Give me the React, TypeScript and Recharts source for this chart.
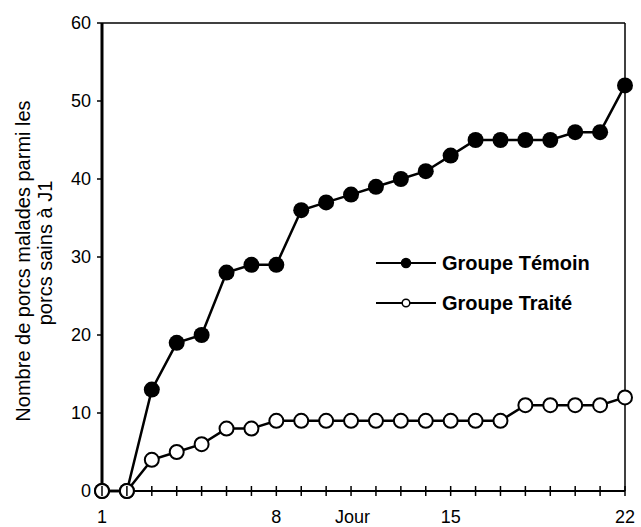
import { LineChart, Line, XAxis, YAxis, Legend, ReferenceLine } from "recharts"

const FONT = "'Liberation Sans', Arial, Helvetica, sans-serif"

const days = [1, 2, 3, 4, 5, 6, 7, 8, 9, 10, 11, 12, 13, 14, 15, 16, 17, 18, 19, 20, 21, 22]
const labelledDays = [1, 8, 15, 22]
const yTicks = [0, 10, 20, 30, 40, 50, 60]
const temoin = [0, 0, 13, 19, 20, 28, 29, 29, 36, 37, 38, 39, 40, 41, 43, 45, 45, 45, 45, 46, 46, 52]
const traite = [0, 0, 4, 5, 6, 8, 8, 9, 9, 9, 9, 9, 9, 9, 9, 9, 9, 11, 11, 11, 11, 12]
const seriesNames = ["Groupe Témoin", "Groupe Traité"]
const yTitleLines = ["Nombre de porcs malades parmi les", "porcs sains à J1"]
const xTitle = "Jour"

const data = days.map((day, i) => ({ day, temoin: temoin[i], traite: traite[i] }))

// tick marks cross the axis, labels only every 7 days
const DayTick = ({ x, y, payload }: any) => (
    <g>
        <line x1={x} x2={x} y1={y - 5} y2={y + 5} stroke="#000" strokeWidth={1.5} />
        {labelledDays.includes(payload.value) && (
            <text x={x} y={y + 32} textAnchor="middle" fontSize={18} fill="#000" fontFamily={FONT}>
                {payload.value}
            </text>
        )}
    </g>
)

const YTitle = ({ viewBox }: any) => {
    const cy = viewBox.y + viewBox.height / 2
    return (
        <g fontFamily={FONT} fontSize={20} fill="#000">
            <text transform={`translate(${viewBox.x + 30}, ${cy + 4}) rotate(-90)`} textAnchor="middle">
                {yTitleLines[0]}
            </text>
            <text transform={`translate(${viewBox.x + 52}, ${cy - 4}) rotate(-90)`} textAnchor="middle">
                {yTitleLines[1]}
            </text>
        </g>
    )
}

const XTitle = ({ viewBox }: any) => (
    <text
        x={viewBox.x + viewBox.width / 2 - 11}
        y={viewBox.y + 32}
        textAnchor="middle"
        fontSize={18}
        fill="#000"
        fontFamily={FONT}
    >
        {xTitle}
    </text>
)

const LegendBox = () => (
    <div style={{ fontFamily: FONT, fontWeight: "bold", fontSize: 20, color: "#000" }}>
        {seriesNames.map((name, i) => (
            <div key={name} style={{ display: "flex", alignItems: "center", height: 40 }}>
                <svg width={62} height={12} style={{ display: "block" }}>
                    <line x1={0} x2={60} y1={6} y2={6} stroke="#000" strokeWidth={2} />
                    <circle
                        cx={30}
                        cy={6}
                        r={i === 0 ? 4.5 : 3.8}
                        fill={i === 0 ? "#000" : "#fff"}
                        stroke="#000"
                        strokeWidth={1.5}
                    />
                </svg>
                <span style={{ marginLeft: 4 }}>{name}</span>
            </div>
        ))}
    </div>
)

export default function App() {
    return (
        <div style={{ position: "absolute", left: 0, top: 0, background: "#fff" }}>
            <LineChart width={641} height={527} data={data} margin={{ top: 23, right: 16, bottom: 0, left: 0 }}>
                <XAxis
                    type="number"
                    dataKey="day"
                    domain={[1, 22]}
                    ticks={days}
                    interval={0}
                    height={36}
                    tickLine={false}
                    tickSize={0}
                    tickMargin={0}
                    axisLine={{ stroke: "#000", strokeWidth: 2 }}
                    tick={<DayTick />}
                    label={{ content: <XTitle /> }}
                />
                <YAxis
                    type="number"
                    domain={[0, 60]}
                    ticks={yTicks}
                    interval={0}
                    width={102}
                    tickSize={5}
                    tickMargin={6}
                    axisLine={{ stroke: "#000", strokeWidth: 3 }}
                    tickLine={{ stroke: "#000", strokeWidth: 1.5 }}
                    tick={{ fontSize: 18, fill: "#000", fontFamily: FONT }}
                    label={{ content: <YTitle /> }}
                />
                <ReferenceLine y={60} stroke="#000" strokeWidth={1.5} />
                <ReferenceLine x={22} stroke="#000" strokeWidth={1.5} />
                <Legend
                    layout="horizontal"
                    align="center"
                    verticalAlign="middle"
                    content={<LegendBox />}
                    wrapperStyle={{ left: 376, top: 243, width: "auto" }}
                />
                <Line
                    dataKey="temoin"
                    name={seriesNames[0]}
                    stroke="#000"
                    strokeWidth={2.5}
                    dot={{ r: 8, fill: "#000", stroke: "#000", strokeWidth: 0 }}
                    isAnimationActive={false}
                />
                <Line
                    dataKey="traite"
                    name={seriesNames[1]}
                    stroke="#000"
                    strokeWidth={2.5}
                    dot={{ r: 7, fill: "#fff", stroke: "#000", strokeWidth: 2 }}
                    isAnimationActive={false}
                />
            </LineChart>
        </div>
    )
}
